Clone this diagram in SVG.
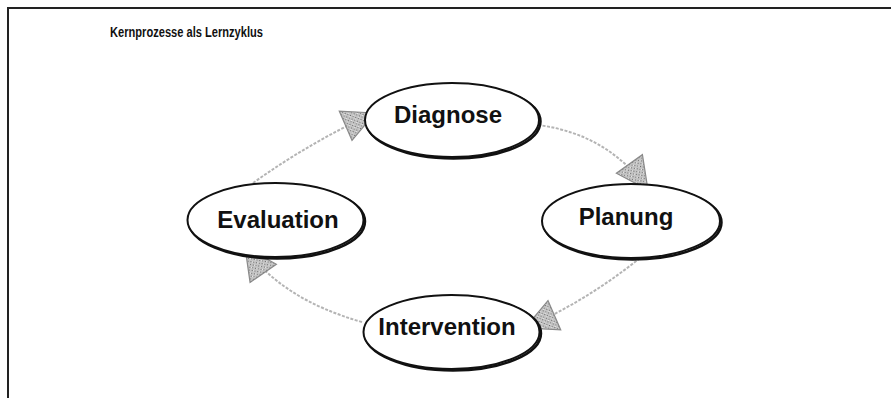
<svg xmlns="http://www.w3.org/2000/svg" width="891" height="398" viewBox="0 0 891 398">
<style>
.frame{stroke:#222;stroke-width:2;fill:none}
.title{font-family:"Liberation Sans",Arial,sans-serif;font-size:14.5px;font-weight:bold;fill:#111}
.node ellipse.shadow{fill:none;stroke:#111;stroke-width:2.5}
.node ellipse.body{fill:#fff;stroke:#111;stroke-width:2}
.node text{font-family:"Liberation Sans",Arial,sans-serif;font-size:24px;font-weight:bold;fill:#111;text-anchor:middle}
.conn{fill:none;stroke:#b4b4b4;stroke-width:2;stroke-dasharray:3 1.5;marker-end:url(#arr)}
</style>
<defs>
<pattern id="speck" width="4" height="4" patternUnits="userSpaceOnUse">
<rect width="4" height="4" fill="#c4c4c4"/>
<rect x="0" y="0" width="1" height="1" fill="#666"/>
<rect x="2" y="2" width="1" height="1" fill="#777"/>
<rect x="3" y="1" width="1" height="1" fill="#eee"/>
</pattern>
<marker id="arr" viewBox="-34 -18 36 36" refX="0" refY="0" markerWidth="36" markerHeight="36" markerUnits="userSpaceOnUse" orient="auto">
<path d="M0,0 L-32,-16 L-32,16 z" fill="url(#speck)" stroke="#8a8a8a" stroke-width="1.2"/>
</marker>
</defs>
<path class="frame" d="M7,8 H891 M8,8 V398"/>
<text class="title" x="110" y="37" textLength="153" lengthAdjust="spacingAndGlyphs">Kernprozesse als Lernzyklus</text>
<g id="connectors">
<path class="conn" d="M253,183 Q315,139 375,113"/>
<path class="conn" d="M538,125 Q608,134 648,190"/>
<path class="conn" d="M640,258 Q585,302 525,328"/>
<path class="conn" d="M362,322 Q281,299 245,247"/>
</g>
<g id="diagnose" class="node">
<ellipse class="shadow" cx="453.5" cy="121.5" rx="87" ry="37"/>
<ellipse class="body" cx="452" cy="120" rx="87" ry="37"/>
<text x="448" y="123">Diagnose</text>
</g>
<g id="planung" class="node">
<ellipse class="shadow" cx="632.5" cy="222.5" rx="89" ry="37"/>
<ellipse class="body" cx="631" cy="221" rx="89" ry="37"/>
<text x="626" y="225">Planung</text>
</g>
<g id="intervention" class="node">
<ellipse class="shadow" cx="453" cy="333.5" rx="88" ry="37"/>
<ellipse class="body" cx="451.5" cy="332" rx="88" ry="37"/>
<text x="447" y="335">Intervention</text>
</g>
<g id="evaluation" class="node">
<ellipse class="shadow" cx="277" cy="221.5" rx="88" ry="37"/>
<ellipse class="body" cx="275.5" cy="220" rx="88" ry="37"/>
<text x="278" y="228">Evaluation</text>
</g>
</svg>
